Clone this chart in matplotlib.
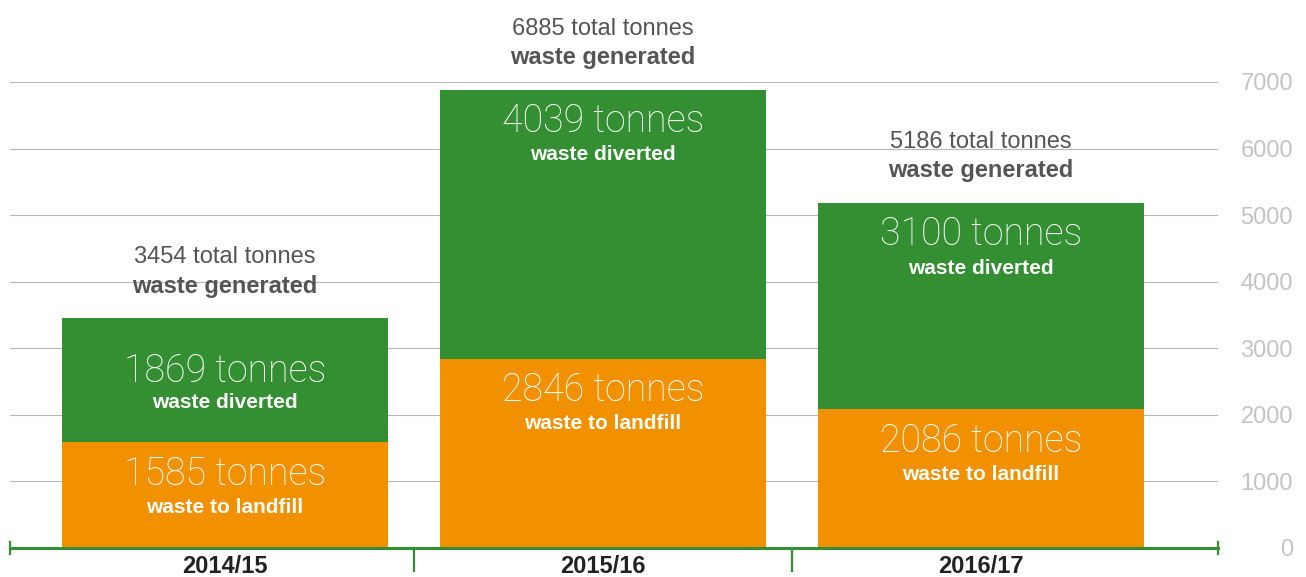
import matplotlib.pyplot as plt

years = ["2014/15", "2015/16", "2016/17"]
landfill = [1585, 2846, 2086]
diverted = [1869, 4039, 3100]
total = [3454, 6885, 5186]
y_ticks = [0, 1000, 2000, 3000, 4000, 5000, 6000, 7000]

GREEN = "#338f32"
ORANGE = "#f29100"
GRID = "#b8b8b8"

# label drop below segment top, in points (number line, caption line)
green_drop = [(38, 61), (23, 47), (23, 47)]
orange_drop = (23, 47)

plt.rcParams["font.family"] = ["Liberation Sans", "DejaVu Sans"]

fig = plt.figure(figsize=(13.06, 5.77), dpi=100)
ax = fig.add_axes([10 / 1306, 1 - 548 / 577, 1208 / 1306, 466 / 577])

x = list(range(len(years)))
width = 0.862
ax.bar(x, landfill, width=width, color=ORANGE, zorder=2)
ax.bar(x, diverted, width=width, bottom=landfill, color=GREEN, zorder=2)

ax.set_xlim(-0.569, 2.627)
ax.set_ylim(0, 7000)
ax.yaxis.grid(True, color=GRID, linewidth=0.8, zorder=0)
ax.set_axisbelow(True)

ax.yaxis.tick_right()
ax.set_yticks(y_ticks)
ax.tick_params(axis="y", length=0, pad=54, labelsize=17, labelcolor="#c4c4c4")
for lbl in ax.get_yticklabels():
    lbl.set_horizontalalignment("right")

ax.set_xticks(x)
ax.set_xticklabels(years, fontweight="bold", fontsize=17, color="#222222")
ax.tick_params(axis="x", length=0, pad=5)
ax.set_xticks([0.5, 1.5], minor=True)
ax.tick_params(axis="x", which="minor", length=17, width=1.6, color=GREEN, direction="out")

for side in ["top", "left", "right"]:
    ax.spines[side].set_visible(False)
ax.spines["bottom"].set_color(GREEN)
ax.spines["bottom"].set_linewidth(2.2)

for xe in (0, 1):
    ax.plot([xe, xe], [-0.012, 0.012], transform=ax.transAxes, color=GREEN,
            linewidth=1.6, clip_on=False, zorder=5)

big = dict(ha="center", va="center", color="white", fontsize=27,
           family=["Roboto", "DejaVu Sans"], fontweight="light",
           textcoords="offset points")
small = dict(ha="center", va="center", color="white", fontsize=15,
             fontweight="bold", textcoords="offset points")

for i in x:
    top = total[i]
    ax.annotate(f"{total[i]} total tonnes", (i, top), xytext=(0, 44),
                textcoords="offset points", ha="center", va="center",
                fontsize=17, color="#555555", annotation_clip=False)
    ax.annotate("waste generated", (i, top), xytext=(0, 23),
                textcoords="offset points", ha="center", va="center",
                fontsize=17, fontweight="bold", color="#555555", annotation_clip=False)

    d1, d2 = green_drop[i]
    ax.annotate(f"{diverted[i]} tonnes", (i, top), xytext=(0, -d1), **big)
    ax.annotate("waste diverted", (i, top), xytext=(0, -d2), **small)

    ax.annotate(f"{landfill[i]} tonnes", (i, landfill[i]), xytext=(0, -orange_drop[0]), **big)
    ax.annotate("waste to landfill", (i, landfill[i]), xytext=(0, -orange_drop[1]), **small)

fig.savefig("out.png", dpi=100)
